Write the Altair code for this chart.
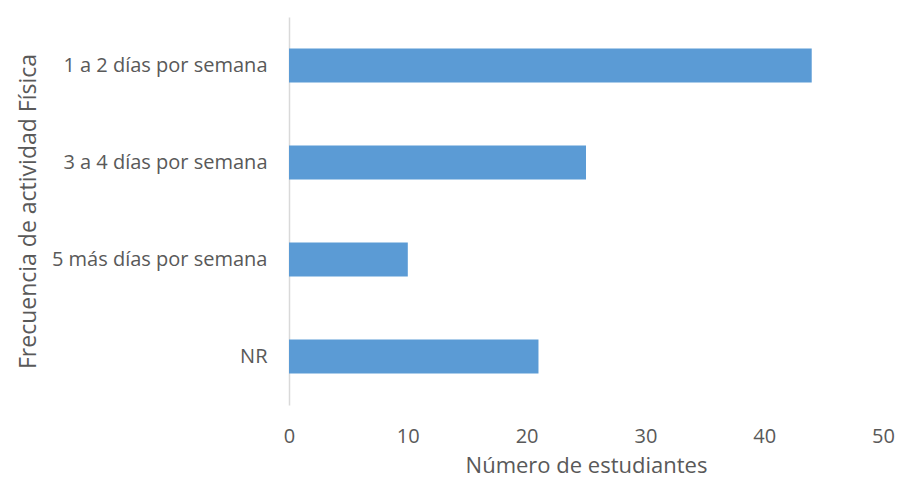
import altair as alt
import pandas as pd

categories = ["1 a 2 días por semana", "3 a 4 días por semana", "5 más días por semana", "NR"]
values = [44, 25, 10, 21]

df = pd.DataFrame({"cat": categories, "n": values})

FONT = "Open Sans"
TXT = "#595959"

chart = alt.Chart(df).mark_bar(color="#5B9BD5").encode(
    x=alt.X("n:Q", title="Número de estudiantes",
            scale=alt.Scale(domain=[0, 50], nice=False),
            axis=alt.Axis(values=[0, 10, 20, 30, 40, 50], grid=False, domain=False, ticks=False,
                          labelFlush=False,
                          labelPadding=21, labelFontSize=20, labelColor=TXT, labelFont=FONT,
                          titleFontSize=22, titleColor=TXT, titleFont=FONT, titleFontWeight="normal",
                          titleY=67, titleBaseline="alphabetic")),
    y=alt.Y("cat:N", title="Frecuencia de actividad Física", sort=categories,
            scale=alt.Scale(paddingInner=0.65, paddingOuter=0.325),
            axis=alt.Axis(grid=False, ticks=False, domain=True, domainColor="#D9D9D9", domainWidth=1.5,
                          labelPadding=22, labelFontSize=20, labelColor=TXT, labelFont=FONT,
                          labelLimit=400,
                          titleFontSize=23, titleColor=TXT, titleFont=FONT, titleFontWeight="normal",
                          titleX=-261, titleY=194, titleAngle=-90, titleAlign="center",
                          titleBaseline="middle")),
).properties(
    width=594, height=388,
    autosize=alt.AutoSizeParams(type="none"),
    padding={"left": 281, "top": 9, "right": 13, "bottom": 74},
).configure(background="white").configure_view(stroke=None)

chart.save("out.html", embed_options={"renderer": "svg", "actions": False})
